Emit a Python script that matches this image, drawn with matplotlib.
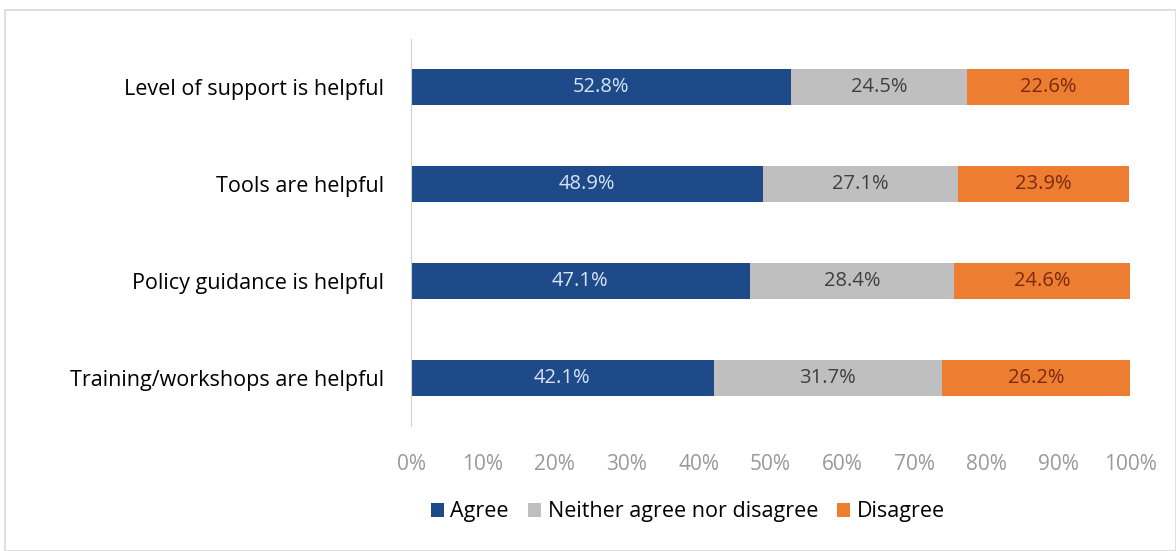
import numpy as np
import matplotlib.pyplot as plt
from matplotlib.patches import Rectangle

# Survey data (top to bottom)
categories = ['Level of support is helpful', 'Tools are helpful',
              'Policy guidance is helpful', 'Training/workshops are helpful']
agree = [52.8, 48.9, 47.1, 42.1]
neither = [24.5, 27.1, 28.4, 31.7]
disagree = [22.6, 23.9, 24.6, 26.2]
series_names = ['Agree', 'Neither agree nor disagree', 'Disagree']
tick_labels = ['0%', '10%', '20%', '30%', '40%', '50%', '60%', '70%', '80%', '90%', '100%']

colors = ['#1F4A8A', '#BFBFBF', '#ED7D31']
text_colors = ['#D6E4F5', '#404040', '#7A2A10']

plt.rcParams['font.family'] = ['Open Sans', 'DejaVu Sans']

fig = plt.figure(figsize=(11.76, 5.51), dpi=100)
ax = fig.add_axes([0.3495, 0.226, 0.6115, 0.704])

# light frame around the picture
fig.patches.append(Rectangle((5 / 1176, 0), 1 - 5 / 1176, 1 - 10 / 551, transform=fig.transFigure,
                             fill=False, edgecolor='#D9D9D9', linewidth=1.2))

y = np.arange(len(categories))
left = np.zeros(len(categories))
for vals, name, c, tc in zip([agree, neither, disagree], series_names, colors, text_colors):
    vals = np.array(vals)
    bars = ax.barh(y, vals, left=left, height=0.38, color=c, label=name)
    for b, v in zip(bars, vals):
        ax.text(b.get_x() + b.get_width() / 2, b.get_y() + b.get_height() / 2, f'{v:.1f}%',
                ha='center', va='center', color=tc, fontsize=14.5)
    left += vals

ax.set_ylim(len(categories) - 0.5, -0.5)
ax.set_xlim(0, 100)
ax.set_yticks(y)
ax.set_yticklabels(categories, fontsize=15.5, color='black')
ax.set_xticks(np.arange(0, 101, 10))
ax.set_xticklabels(tick_labels, fontsize=15, color='#999999')
ax.tick_params(axis='y', length=0, pad=19.5)
ax.tick_params(axis='x', length=0, pad=20)
for s in ['top', 'right', 'bottom']:
    ax.spines[s].set_visible(False)
ax.spines['left'].set_color('#D0D0D0')

leg = fig.legend(loc='center', bbox_to_anchor=(0.585, 0.071), ncol=3, frameon=False,
                 fontsize=15.5, handlelength=0.6, handleheight=0.6, handletextpad=0.3,
                 columnspacing=0.9)

fig.savefig('out.png', dpi=100)
